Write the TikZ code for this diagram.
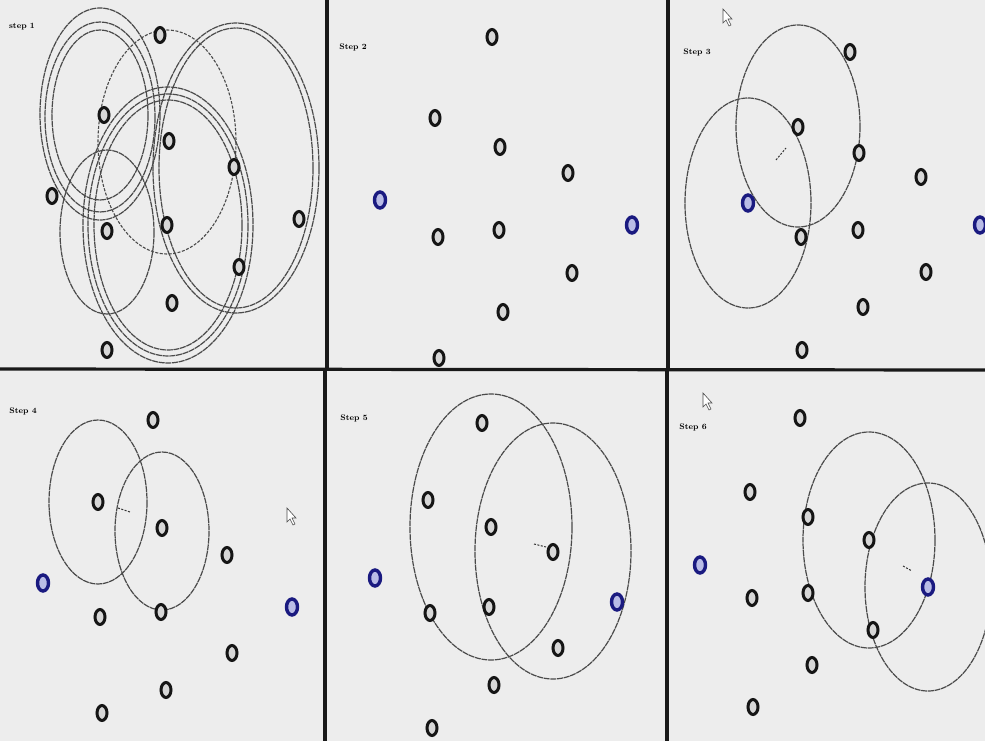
\documentclass[tikz,border=0pt]{standalone}
\usetikzlibrary{shapes.geometric}
\definecolor{bg}{HTML}{EDEDED}
\definecolor{ring}{HTML}{151515}
\definecolor{ell}{HTML}{4A4A4A}
\definecolor{bluering}{HTML}{1A1A80}
\definecolor{halo}{HTML}{B9BCE6}
\tikzset{
  nd/.style={ellipse,draw=ring,line width=3pt,fill=bg!80!gray,minimum width=10pt,minimum height=15pt,inner sep=0pt},
  bnd/.style={ellipse,draw=bluering,line width=3.4pt,fill=halo,minimum width=11pt,minimum height=16pt,inner sep=0pt},
  ell/.style={draw=ell,line width=1.2pt,dash pattern=on 6pt off 0.7pt},
  dell/.style={draw=ell,line width=1.1pt,dash pattern=on 3pt off 1.5pt},
  border/.style={line width=3.2pt,draw=black!90},
  ttl/.style={font=\bfseries\footnotesize,inner sep=0pt},
  dsh/.style={draw=black!80,line width=1pt,dash pattern=on 2pt off 1.5pt},
  cursor/.style={draw=black!70,fill=white,line width=0.6pt}
}
\begin{document}
\begin{tikzpicture}[x=1pt,y=-1pt]
\fill[bg] (0,0) rectangle (985,741);
\useasboundingbox (0,0) rectangle (985,741);
% ---------- borders ----------
\draw[border] (0,369) -- (985,370);
\draw[border] (327,0) -- (327,369);
\draw[border] (668,0) -- (668,370);
\draw[border] (325,369) -- (325,741);
\draw[border] (667,370) -- (667,741);
% ---------- panel 1 ----------
\node[ttl] (t1) at (22,27) {step 1};
\foreach \rx/\ry/\cy in {60/106/114,55/95/117,48/85/115} \draw[ell] (100,\cy) ellipse [x radius=\rx,y radius=\ry];
\foreach \rx/\ry in {83/145,77/140} \draw[ell] (236,168) ellipse [x radius=\rx,y radius=\ry];
\foreach \rx/\ry in {85/138,80/131,74/125} \draw[ell] (168,225) ellipse [x radius=\rx,y radius=\ry];
\draw[dell] (167,142) ellipse [x radius=69,y radius=112];
\draw[ell] (107,232) ellipse [x radius=47,y radius=82];
\node[nd] (a1) at (160,35) {};
\node[nd] (a2) at (104,115) {};
\node[nd] (a3) at (169,141) {};
\node[nd] (a4) at (234,167) {};
\node[nd] (a5) at (52,196) {};
\node[nd] (a6) at (107,231) {};
\node[nd] (a7) at (167,225) {};
\node[nd] (a8) at (299,219) {};
\node[nd] (a9) at (239,267) {};
\node[nd] (a10) at (172,303) {};
\node[nd] (a11) at (107,350) {};
% ---------- panel 2 ----------
\node[ttl] (t2) at (353,47) {Step 2};
\node[nd] (b1) at (492,37) {};
\node[nd] (b2) at (435,118) {};
\node[nd] (b3) at (500,147) {};
\node[nd] (b4) at (568,173) {};
\node[bnd] (b5) at (380,200) {};
\node[nd] (b6) at (438,237) {};
\node[nd] (b7) at (499,230) {};
\node[bnd] (b8) at (632,225) {};
\node[nd] (b9) at (572,273) {};
\node[nd] (b10) at (503,312) {};
\node[nd] (b11) at (439,358) {};
% ---------- panel 3 ----------
\node[ttl] (t3) at (697,52) {Step 3};
\draw[ell] (748,203) ellipse [x radius=63,y radius=105];
\draw[ell] (798,126) ellipse [x radius=62,y radius=101];
\node[nd] (c1) at (850,52) {};
\node[nd] (c2) at (798,127) {};
\node[nd] (c3) at (859,153) {};
\node[nd] (c4) at (921,177) {};
\node[bnd] (c5) at (748,203) {};
\node[nd] (c6) at (801,237) {};
\node[nd] (c7) at (858,230) {};
\node[bnd] (c8) at (980,225) {};
\node[nd] (c9) at (926,272) {};
\node[nd] (c10) at (863,307) {};
\node[nd] (c11) at (802,350) {};
\coordinate (c12) at (776,160);
\coordinate (c13) at (786,148);
\draw[dsh] (c12) -- (c13);
\draw[cursor] (723,9) -- (723,23) -- (726,20) -- (729,26) -- (731,25) -- (728,19) -- (732,19) -- cycle;
% ---------- panel 4 ----------
\node[ttl] (t4) at (23,411) {Step 4};
\draw[ell] (98,502) ellipse [x radius=49,y radius=82];
\draw[ell] (162,531) ellipse [x radius=47,y radius=79];
\node[nd] (d1) at (153,420) {};
\node[nd] (d2) at (98,502) {};
\node[nd] (d3) at (162,528) {};
\node[nd] (d4) at (227,555) {};
\node[bnd] (d5) at (43,583) {};
\node[nd] (d6) at (100,617) {};
\node[nd] (d7) at (161,612) {};
\node[bnd] (d8) at (292,607) {};
\node[nd] (d9) at (232,653) {};
\node[nd] (d10) at (166,690) {};
\node[nd] (d11) at (102,713) {};
\coordinate (d12) at (118,508);
\coordinate (d13) at (130,512);
\draw[dsh] (d12) -- (d13);
\draw[cursor] (287,508) -- (287,522) -- (290,519) -- (293,525) -- (295,524) -- (292,518) -- (296,518) -- cycle;
% ---------- panel 5 ----------
\node[ttl] (t5) at (354,418) {Step 5};
\draw[ell] (491,527) ellipse [x radius=81,y radius=133];
\draw[ell] (553,551) ellipse [x radius=78,y radius=128];
\node[nd] (e1) at (482,423) {};
\node[nd] (e2) at (428,500) {};
\node[nd] (e3) at (491,527) {};
\node[nd] (e4) at (553,552) {};
\node[bnd] (e5) at (375,578) {};
\node[nd] (e6) at (430,613) {};
\node[nd] (e7) at (489,607) {};
\node[bnd] (e8) at (617,602) {};
\node[nd] (e9) at (558,648) {};
\node[nd] (e10) at (494,685) {};
\node[nd] (e11) at (432,728) {};
\coordinate (e12) at (534,544);
\coordinate (e13) at (546,547);
\draw[dsh] (e12) -- (e13);
% ---------- panel 6 ----------
\node[ttl] (t6) at (693,427) {Step 6};
\draw[ell] (869,540) ellipse [x radius=66,y radius=108];
\draw[ell] (928,587) ellipse [x radius=63,y radius=104];
\node[nd] (f1) at (800,418) {};
\node[nd] (f2) at (750,492) {};
\node[nd] (f3) at (808,517) {};
\node[nd] (f4) at (869,540) {};
\node[bnd] (f5) at (700,565) {};
\node[nd] (f6) at (752,598) {};
\node[nd] (f7) at (808,593) {};
\node[bnd] (f8) at (928,587) {};
\node[nd] (f9) at (873,630) {};
\node[nd] (f10) at (812,665) {};
\node[nd] (f11) at (753,707) {};
\coordinate (f12) at (903,566);
\coordinate (f13) at (912,571);
\draw[dsh] (f12) -- (f13);
\draw[cursor] (703,393) -- (703,407) -- (706,404) -- (709,410) -- (711,409) -- (708,403) -- (712,403) -- cycle;
\end{tikzpicture}
\end{document}
